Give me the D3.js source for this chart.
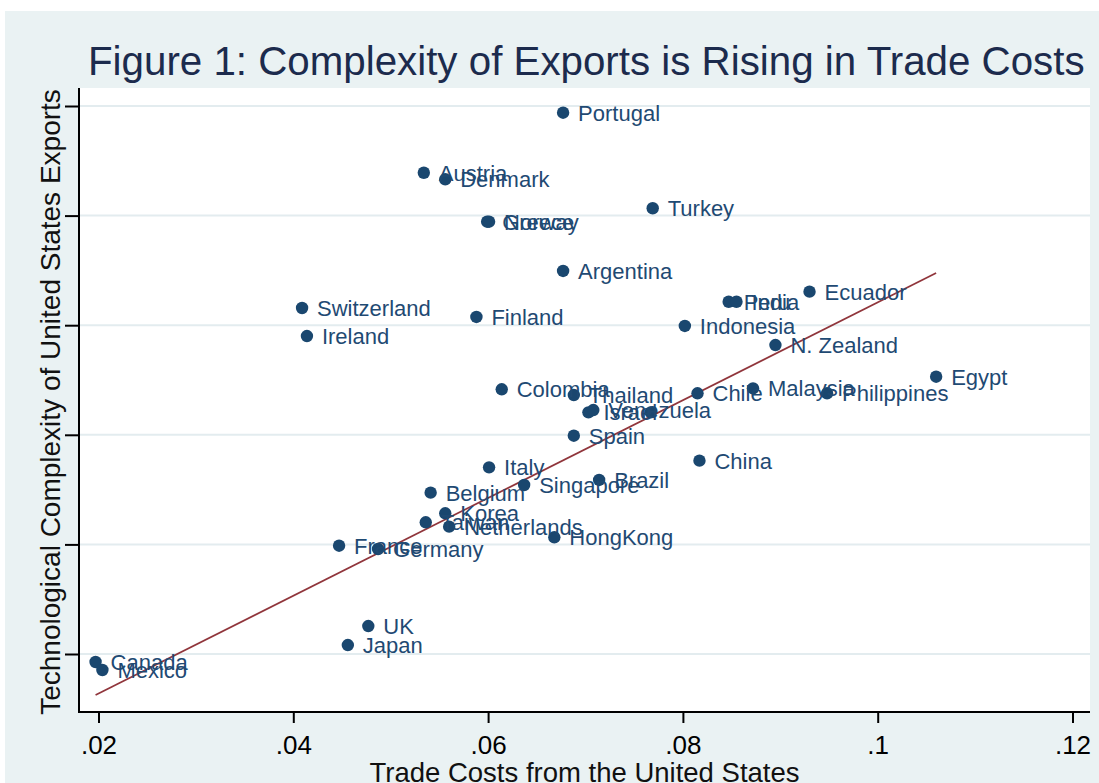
<!DOCTYPE html>
<html>
<head>
<meta charset="utf-8">
<script src="https://cdn.jsdelivr.net/npm/d3@7"></script>
<style>
  html, body { margin: 0; padding: 0; background: #ffffff; }
  svg { display: block; font-family: "Liberation Sans", Arial, sans-serif; }
</style>
</head>
<body>
<svg id="chart" width="1099" height="783"></svg>
<script>
// ---- Data ----
const countries = ["Portugal","Austria","Denmark","Greece","Norway","Turkey","Argentina",
  "Switzerland","Ireland","Finland","Peru","India","Ecuador","Indonesia","N. Zealand","Egypt",
  "Chile","Malaysia","Philippines","Colombia","Thailand","Israel","Venezuela","",
  "Spain","China","Italy","Singapore","Brazil","Belgium","Korea","Taiwan","Netherlands",
  "HongKong","France","Germany","UK","Japan","Canada","Mexico"];
const tradeCosts = [0.0677,0.0534,0.0556,0.0599,0.0601,0.0769,0.0677,
  0.0409,0.0414,0.0588,0.0847,0.0855,0.0930,0.0802,0.0895,0.1060,
  0.0815,0.0872,0.0948,0.0614,0.0688,0.0703,0.0708,0.0767,
  0.0688,0.0817,0.0601,0.0637,0.0714,0.0541,0.0556,0.0536,0.0560,
  0.0668,0.0447,0.0487,0.0477,0.0456,0.0197,0.0204];
const complexity = [5.939,5.391,5.331,4.944,4.944,5.067,4.495,
  4.157,3.901,4.075,4.214,4.214,4.306,3.993,3.819,3.530,
  3.379,3.424,3.379,3.415,3.363,3.205,3.226,3.205,
  2.992,2.764,2.703,2.542,2.588,2.472,2.284,2.202,2.162,
  2.065,1.988,1.958,1.255,1.082,0.927,0.854];
const fitX = [0.0197, 0.1060];
const fitY = [0.626, 4.476];
const xTickValues = [0.02, 0.04, 0.06, 0.08, 0.10, 0.12];
const xTickLabels = [".02", ".04", ".06", ".08", ".1", ".12"];
const yTickValues = [1, 2, 3, 4, 5, 6];

const titleText = "Figure 1: Complexity of Exports is Rising in Trade Costs";
const xTitle = "Trade Costs from the United States";
const yTitle = "Technological Complexity of United States Exports";

// ---- Layout ----
const svg = d3.select("#chart");
const W = 1099, H = 783;
const plot = { left: 79, right: 1090, top: 88, bottom: 712 };

const x = d3.scaleLinear().domain([0.02, 0.12]).range([98.5, 1072.5]);
const y = d3.scaleLinear().domain([1, 6]).range([654, 106]);

svg.append("rect").attr("x", 0).attr("y", 0).attr("width", W).attr("height", H).attr("fill", "#ffffff");
svg.append("rect").attr("x", 5).attr("y", 11).attr("width", W - 5).attr("height", H - 11).attr("fill", "#eaf2f3");
svg.append("rect").attr("x", plot.left).attr("y", plot.top)
  .attr("width", plot.right - plot.left).attr("height", plot.bottom - plot.top).attr("fill", "#ffffff");

// gridlines
svg.append("g").selectAll("line").data(yTickValues).join("line")
  .attr("x1", plot.left + 1).attr("x2", plot.right)
  .attr("y1", d => y(d)).attr("y2", d => y(d))
  .attr("stroke", "#e3ecef").attr("stroke-width", 2);

// fit line
const pts = fitX.map((v, i) => [v, fitY[i]]);
svg.append("path")
  .attr("d", d3.line().x(d => x(d[0])).y(d => y(d[1]))(pts))
  .attr("fill", "none").attr("stroke", "#90353b").attr("stroke-width", 1.7);

// points + labels
const data = countries.map((c, i) => ({ c, tx: tradeCosts[i], cy: complexity[i] }));
const g = svg.append("g");
g.selectAll("circle").data(data).join("circle")
  .attr("cx", d => x(d.tx)).attr("cy", d => y(d.cy)).attr("r", 6.2)
  .attr("fill", "#1a476f");
g.selectAll("text").data(data).join("text")
  .attr("x", d => x(d.tx) + 15).attr("y", d => y(d.cy))
  .attr("dy", "0.36em")
  .attr("font-size", 22).attr("fill", "#1f4a73")
  .text(d => d.c);

// axes
const xAxis = d3.axisBottom(x).tickValues(xTickValues)
  .tickFormat((d, i) => xTickLabels[i]).tickSize(11).tickPadding(13);
const gx = svg.append("g").attr("transform", `translate(0,${plot.bottom})`).call(xAxis);
gx.select(".domain").remove();
gx.selectAll(".tick line").attr("stroke", "#000").attr("stroke-width", 2);
gx.selectAll(".tick text").attr("font-size", 26).attr("fill", "#000")
  .attr("font-family", "Liberation Sans, Arial, sans-serif");

const yAxis = d3.axisLeft(y).tickValues(yTickValues).tickFormat("").tickSize(14);
const gy = svg.append("g").attr("transform", `translate(${plot.left},0)`).call(yAxis);
gy.select(".domain").remove();
gy.selectAll(".tick line").attr("stroke", "#000").attr("stroke-width", 2);

svg.append("line").attr("x1", plot.left).attr("x2", plot.left)
  .attr("y1", plot.top).attr("y2", plot.bottom + 1)
  .attr("stroke", "#000").attr("stroke-width", 2);
svg.append("line").attr("x1", plot.left - 1).attr("x2", plot.right)
  .attr("y1", plot.bottom).attr("y2", plot.bottom)
  .attr("stroke", "#000").attr("stroke-width", 2);

// titles
svg.append("text").attr("x", 88).attr("y", 75).attr("text-anchor", "start")
  .attr("font-size", 40.3).attr("fill", "#1c2b4d").text(titleText);
svg.append("text").attr("x", 584.5).attr("y", 782).attr("text-anchor", "middle")
  .attr("font-size", 27.5).attr("fill", "#111").text(xTitle);
svg.append("text").attr("transform", "translate(60,402) rotate(-90)")
  .attr("text-anchor", "middle").attr("font-size", 28).attr("fill", "#111").text(yTitle);
</script>
</body>
</html>
